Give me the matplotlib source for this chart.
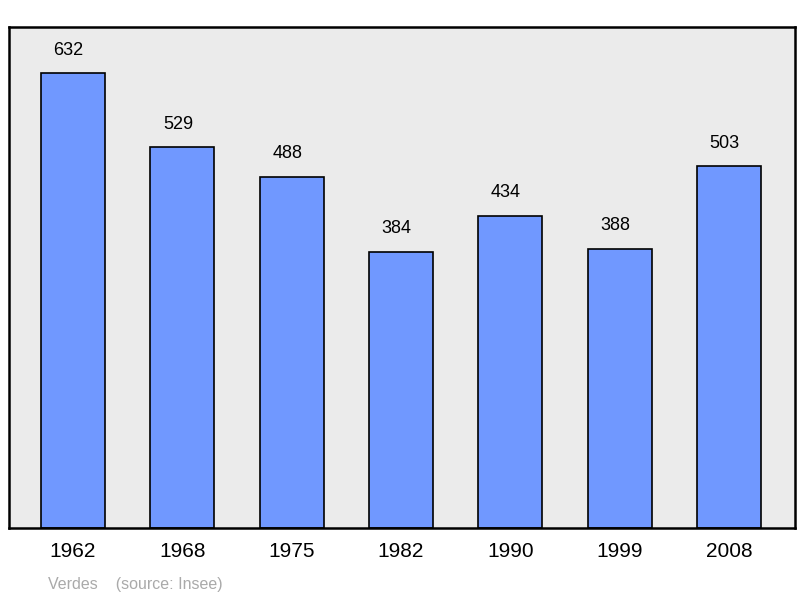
import matplotlib
matplotlib.use("Agg")
import matplotlib.pyplot as plt

years = ["1962", "1968", "1975", "1982", "1990", "1999", "2008"]
population = [632, 529, 488, 384, 434, 388, 503]

plt.rcParams['font.family'] = ['Liberation Sans', 'DejaVu Sans']
fig = plt.figure(figsize=(8, 5.98), dpi=100)
ax = fig.add_axes([9/800, 70/598, 786/800, 501/598])
ax.set_facecolor('#ebebeb')
x = range(len(years))
ax.bar(x, population, width=0.585, color='#7098ff', edgecolor='black', linewidth=1.2, zorder=2)
for xi, v in zip(x, population):
    ax.text(xi - 0.04, v + 20, str(v), ha='center', va='bottom', fontsize=13)
ax.set_xlim(-0.585, 6.603)
ax.set_ylim(0, 696)
ax.set_yticks([])
ax.set_xticks(list(x))
ax.set_xticklabels(years, fontsize=15)
ax.tick_params(axis='x', length=0, pad=10)
for s in ax.spines.values():
    s.set_linewidth(1.8)
fig.text(48/800, 1 - 584/598, "Verdes    (source: Insee)", color='#aaaaaa', fontsize=11.5, va='center')
fig.savefig("out.png", dpi=100)
